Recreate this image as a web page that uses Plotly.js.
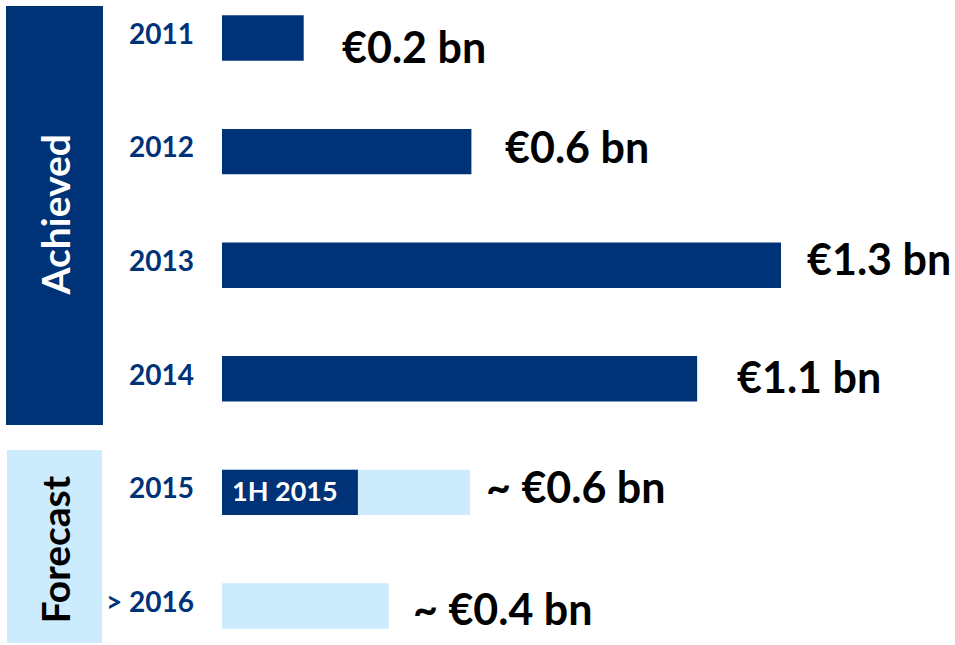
<!DOCTYPE html>
<html>
<head>
<meta charset="utf-8">
<script src="https://cdn.plot.ly/plotly-3.0.1.min.js"></script>
<style>html,body{margin:0;padding:0;background:#fff;}#chart{width:955px;height:645px;}</style>
</head>
<body>
<div id="chart"></div>
<script>
const years = ["2011", "2012", "2013", "2014", "2015", "> 2016"];
const values = [0.19, 0.58, 1.30, 1.105, 0.577, 0.388];
const valueLabels = ["€0.2 bn", "€0.6 bn", "€1.3 bn", "€1.1 bn", "~ €0.6 bn", "~ €0.4 bn"];
const status = ["Achieved", "Achieved", "Achieved", "Achieved", "Forecast", "Forecast"];
const partialYear = ["2015"];
const partialValue = [0.316];
const partialLabel = ["1H 2015"];

const DARK = "#003278";
const LIGHT = "#CCEBFC";
const FONT = "Lato, 'Open Sans', sans-serif";
const idx = years.map((_, i) => i);

const barColors = status.map(s => s === "Achieved" ? DARK : LIGHT);

const traces = [
  {
    type: "bar", orientation: "h",
    x: values, y: idx, width: 0.4,
    marker: {color: barColors, line: {width: 0}},
    hoverinfo: "skip"
  },
  {
    type: "bar", orientation: "h",
    x: partialValue, y: partialYear.map(p => years.indexOf(p)), width: 0.4,
    marker: {color: DARK, line: {width: 0}},
    hoverinfo: "skip"
  }
];

const labelXShift = [36, 32, 24, 38, 14, 22];
const labelYShift = [-8, 5, 7, 2, 6, -2];
const annotations = values.map((v, i) => ({
  x: v, y: i, xref: "x", yref: "y",
  text: "<b>" + valueLabels[i] + "</b>",
  showarrow: false, xanchor: "left", yanchor: "middle",
  xshift: labelXShift[i], yshift: labelYShift[i],
  font: {family: FONT, size: 43, color: "#000"}
}));
annotations.push({
  x: 0, y: years.indexOf(partialYear[0]), xref: "x", yref: "y",
  text: "<b>" + partialLabel[0] + "</b>",
  showarrow: false, xanchor: "left", yanchor: "middle", xshift: 8, yshift: 2,
  font: {family: FONT, size: 27, color: "#fff"}
});
annotations.push({
  x: 54.5/955, y: 1 - 215/645, xref: "paper", yref: "paper",
  text: "<b>Achieved</b>", textangle: -90, showarrow: false,
  xanchor: "center", yanchor: "middle",
  font: {family: FONT, size: 39, color: "#fff"}
});
annotations.push({
  x: 54.5/955, y: 1 - 550/645, xref: "paper", yref: "paper",
  text: "<b>Forecast</b>", textangle: -90, showarrow: false,
  xanchor: "center", yanchor: "middle",
  font: {family: FONT, size: 39, color: "#000"}
});

const shapes = [
  {type: "rect", xref: "paper", yref: "paper", x0: 6/955, x1: 103/955, y0: 1 - 425/645, y1: 1 - 6/645, fillcolor: DARK, line: {width: 0}, layer: "below"},
  {type: "rect", xref: "paper", yref: "paper", x0: 7/955, x1: 102/955, y0: 1 - 643/645, y1: 1 - 450/645, fillcolor: LIGHT, line: {width: 0}, layer: "below"}
];

const layout = {
  width: 955, height: 645,
  margin: {l: 0, r: 0, t: 0, b: 0, pad: 0},
  paper_bgcolor: "#fff", plot_bgcolor: "rgba(0,0,0,0)",
  showlegend: false, barmode: "overlay",
  xaxis: {domain: [222/955, 1], range: [0, 733/430], visible: false, fixedrange: true},
  yaxis: {
    range: [5 + 39/113.6, -38/113.6], tickvals: idx, ticktext: years.map(y => "<b>" + y + "</b>"),
    showgrid: false, zeroline: false, showline: false, ticks: "",
    ticklabelstandoff: 27, ticklabelshift: 4,
    tickfont: {family: FONT, size: 28, color: DARK}
  },
  annotations: annotations,
  shapes: shapes
};

Plotly.newPlot("chart", traces, layout, {displayModeBar: false, staticPlot: true});
</script>
</body>
</html>
